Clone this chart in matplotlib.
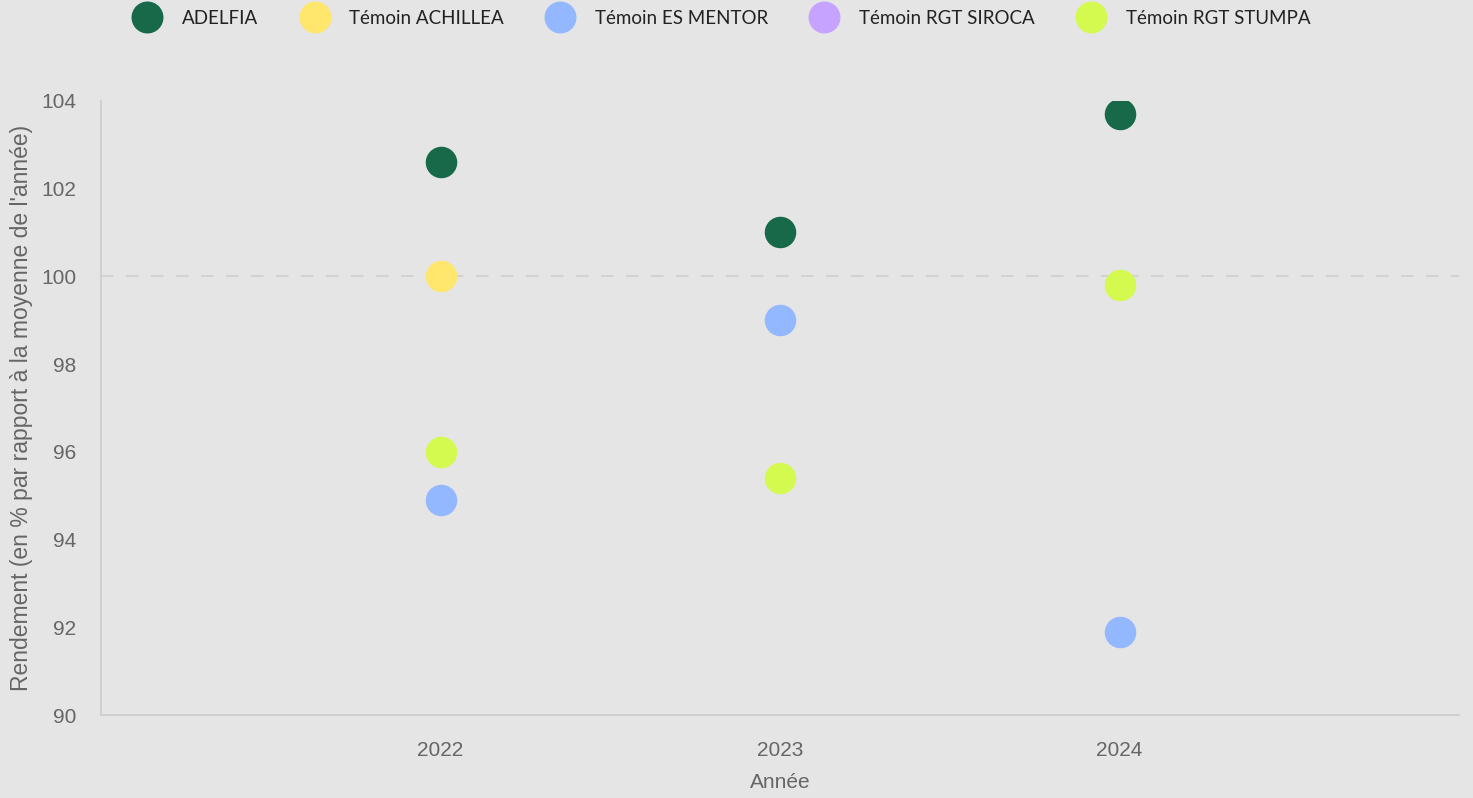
import matplotlib
matplotlib.use("Agg")
import matplotlib.pyplot as plt
from matplotlib.lines import Line2D

# Données
annees = [2022, 2023, 2024]
series = ["ADELFIA", "Témoin ACHILLEA", "Témoin ES MENTOR", "Témoin RGT SIROCA", "Témoin RGT STUMPA"]
adelfia = [102.6, 101.0, 103.7]
achillea = [100.0, None, None]
es_mentor = [94.9, 99.0, 91.9]
rgt_siroca = [None, None, None]
rgt_stumpa = [96.0, 95.4, 99.8]
couleurs = ["#17694a", "#ffe66d", "#94b8ff", "#c5a3ff", "#d4fa50"]

valeurs = [adelfia, achillea, es_mentor, rgt_siroca, rgt_stumpa]

bg = "#e5e5e5"
fig = plt.figure(figsize=(14.73, 7.98), dpi=100, facecolor=bg)
ax = fig.add_axes([0.0686, 0.104, 0.922, 0.7696], facecolor=bg)

# ligne de référence à 100
ax.axhline(100, color="#d2d2d2", lw=1.5, ls=(0, (6, 6)), zorder=1)

for nom, vals, c in zip(series, valeurs, couleurs):
    xs = [a for a, v in zip(annees, vals) if v is not None]
    ys = [v for v in vals if v is not None]
    ax.scatter(xs, ys, s=470, color=c, edgecolors=c, linewidths=1, zorder=3)

ax.set_xlim(2021, 2025)
ax.set_ylim(90, 104)
ax.set_xticks(annees)
ax.set_yticks(range(90, 105, 2))

for s in ["top", "right"]:
    ax.spines[s].set_visible(False)
for s in ["left", "bottom"]:
    ax.spines[s].set_color("#cccccc")
    ax.spines[s].set_linewidth(1.2)
ax.tick_params(length=0, labelsize=15, labelcolor="#666666", pad=18)
ax.tick_params(axis="x", pad=19)
for lbl in ax.get_xticklabels() + ax.get_yticklabels():
    lbl.set_family("Liberation Sans")

ax.set_xlabel("Année", fontsize=15, color="#666666", family="Liberation Sans", labelpad=9)
ax.set_ylabel("Rendement (en % par rapport à la moyenne de l'année)", fontsize=16.5,
              color="#666666", family="Liberation Sans", labelpad=6)

# légende en haut
handles = [Line2D([], [], ls="", marker="o", markersize=22, color=c, label=n)
           for n, c in zip(series, couleurs)]
fig.legend(handles=handles, loc="center", bbox_to_anchor=(0.491, 0.977), ncol=5,
           frameon=False, prop={"family": "Lato", "size": 13.5}, labelcolor="#222222",
           columnspacing=2.4, handletextpad=1.25, handlelength=1.2)

fig.savefig("out.png", dpi=100, facecolor=bg)
